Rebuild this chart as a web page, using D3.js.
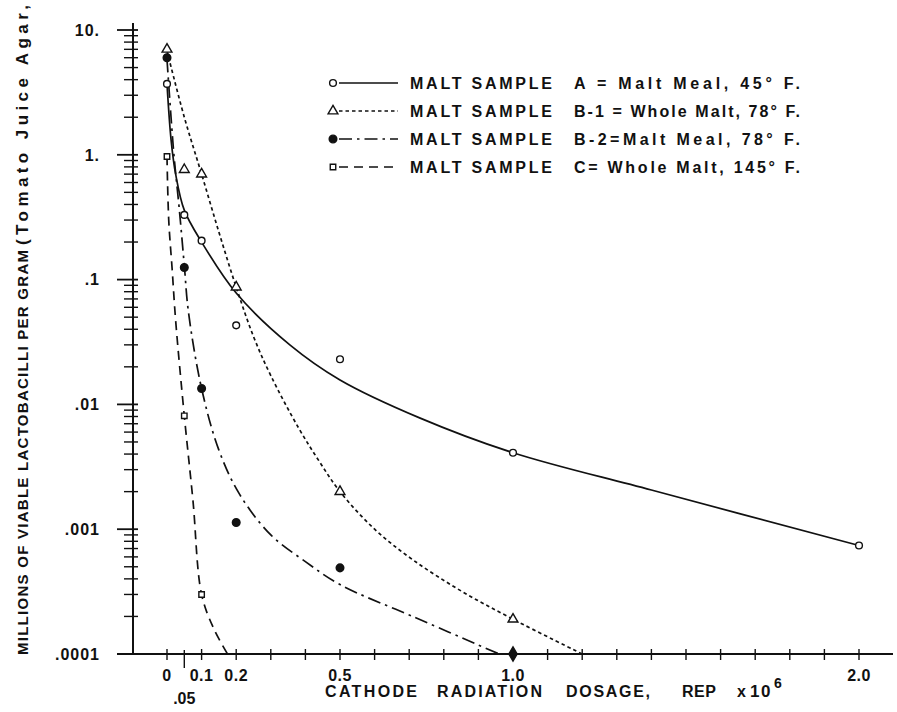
<!DOCTYPE html>
<html>
<head>
<meta charset="utf-8">
<script src="https://cdn.jsdelivr.net/npm/d3@7"></script>
<style>
  body { margin: 0; background: #fff; }
  svg text { font-family: "Liberation Sans", Arial, sans-serif; font-weight: bold; fill: #111; }
</style>
</head>
<body>
<svg id="chart" width="897" height="712"></svg>
<script>
// measured points: dose in REP x 10^6, millions of lactobacilli per gram
var doseA = [0, 0.05, 0.1, 0.2, 0.5, 1.0, 2.0],
    countA = [3.7, 0.33, 0.205, 0.043, 0.023, 0.0041, 0.00074];
var doseB1 = [0, 0.05, 0.1, 0.2, 0.5, 1.0],
    countB1 = [7.0, 0.76, 0.70, 0.087, 0.002, 0.00019];
var doseB2 = [0, 0.05, 0.1, 0.2, 0.5, 1.0],
    countB2 = [6.0, 0.125, 0.0134, 0.00113, 0.00049, 0.0001];
var doseC = [0, 0.05, 0.1],
    countC = [0.97, 0.0081, 0.0003];

// the hand drawn curves as [dose, count]
var fitA = [[0, 3.7], [0.012, 1.3], [0.025, 0.7], [0.05, 0.36], [0.1, 0.2], [0.2, 0.078], [0.355, 0.030],
            [0.5, 0.0157], [0.73, 0.0078], [1.0, 0.0041], [1.4, 0.00206], [2.0, 0.00074]];
var fitB1 = [[0, 6.8], [0.05, 2.0], [0.1, 0.70], [0.15, 0.24], [0.2, 0.087], [0.25, 0.035], [0.30, 0.017],
             [0.38, 0.0065], [0.44, 0.0035], [0.5, 0.002], [0.6, 0.001], [0.71, 0.00057], [0.85, 0.00032],
             [1.0, 0.00019], [1.2, 0.0001]];
var fitB2 = [[0, 5.8], [0.02, 1.0], [0.035, 0.38], [0.05, 0.13], [0.062, 0.055], [0.1, 0.0134], [0.15, 0.0043],
             [0.21, 0.0019], [0.30, 0.0009], [0.40, 0.00055], [0.50, 0.00036], [0.71, 0.0002], [0.96, 0.0001]];
var fitC = [[0, 0.97], [0.005, 0.3], [0.015, 0.12], [0.025, 0.047], [0.05, 0.0081], [0.075, 0.0017],
            [0.1, 0.0003], [0.135, 0.00016], [0.175, 0.0001]];

var xTickValues = [0, 0.1, 0.2, 0.5, 1.0, 2.0],
    xTickLabels = ["0", "0.1", "0.2", "0.5", "1.0", "2.0"];
var yTickValues = [10, 1, 0.1, 0.01, 0.001, 0.0001],
    yTickLabels = ["10.", "1.", ".1", ".01", ".001", ".0001"];

var legendNames = ["MALT SAMPLE", "MALT SAMPLE", "MALT SAMPLE", "MALT SAMPLE"],
    legendDetails = ["A = Malt Meal,  45\u00B0 F.", "B-1 = Whole Malt,  78\u00B0 F.",
                     "B-2=Malt Meal,  78\u00B0 F.", "C= Whole Malt, 145\u00B0 F."];

var svg = d3.select("svg#chart");

var x = d3.scaleLinear().domain([0, 2]).range([167, 859]);
var y = d3.scaleLog().domain([1e-4, 10]).range([654, 30]);
var axisX = 133;

var series = [
  {dose: doseA, count: countA, fit: fitA, symbol: d3.symbolCircle, size: 36, filled: false, dash: null},
  {dose: doseB1, count: countB1, fit: fitB1, symbol: d3.symbolTriangle, size: 42, filled: false, dash: "3.5,3"},
  {dose: doseB2, count: countB2, fit: fitB2, symbol: d3.symbolCircle, size: 46, filled: true, dash: "13,5,2.5,5"},
  {dose: doseC, count: countC, fit: fitC, symbol: d3.symbolSquare, size: 30, filled: false, dash: "9,6"}
];

// axes drawn by hand: log ticks cross the line, decades get a longer tick
var axes = svg.append("g").attr("stroke", "#111").attr("fill", "none");

axes.append("line")
    .attr("x1", axisX).attr("x2", axisX)
    .attr("y1", y(10) - 7).attr("y2", y(1e-4))
    .attr("stroke-width", 2);
axes.append("line")
    .attr("x1", axisX - 16).attr("x2", 893)
    .attr("y1", y(1e-4)).attr("y2", y(1e-4))
    .attr("stroke-width", 2);

var yMinor = [];
yTickValues.slice(1).forEach(function(d) {
  d3.range(2, 10).forEach(function(m) { yMinor.push(d * m); });
});

axes.selectAll(".ymin").data(yMinor).enter().append("line")
    .attr("x1", axisX - 9).attr("x2", axisX + 5)
    .attr("y1", function(d) { return y(d); }).attr("y2", function(d) { return y(d); })
    .attr("stroke-width", 1.4);
axes.selectAll(".ymaj").data(yTickValues).enter().append("line")
    .attr("x1", axisX - 16).attr("x2", axisX + 5)
    .attr("y1", function(d) { return y(d); }).attr("y2", function(d) { return y(d); })
    .attr("stroke-width", 1.8);

axes.selectAll(".xt").data(d3.range(0, 21).map(function(i) { return i / 10; })).enter().append("line")
    .attr("x1", function(d) { return x(d); }).attr("x2", function(d) { return x(d); })
    .attr("y1", y(1e-4) - 5).attr("y2", y(1e-4) + 6)
    .attr("stroke-width", 1.4);
axes.append("line")
    .attr("x1", x(0.05)).attr("x2", x(0.05))
    .attr("y1", y(1e-4) - 4).attr("y2", y(1e-4) + 14)
    .attr("stroke-width", 1.4);

svg.selectAll(".ylab").data(yTickValues).enter().append("text")
    .attr("x", 100)
    .attr("y", function(d) { return y(d); })
    .attr("dy", "0.36em")
    .attr("text-anchor", "end")
    .style("font-size", "16px")
    .style("letter-spacing", "1px")
    .text(function(d, i) { return yTickLabels[i]; });

svg.selectAll(".xlab").data(xTickValues).enter().append("text")
    .attr("x", function(d) { return x(d); })
    .attr("y", 681)
    .attr("text-anchor", "middle")
    .style("font-size", "16px")
    .style("letter-spacing", "0.5px")
    .text(function(d, i) { return xTickLabels[i]; });
svg.append("text")
    .attr("x", x(0.05)).attr("y", 704)
    .attr("text-anchor", "middle")
    .style("font-size", "16px")
    .text(".05");

// axis titles
var xt = svg.append("text").attr("y", 697).style("font-size", "16px");
xt.append("tspan").attr("x", 325).attr("textLength", 92).text("CATHODE");
xt.append("tspan").attr("x", 437).attr("textLength", 105).text("RADIATION");
xt.append("tspan").attr("x", 566).attr("textLength", 84).text("DOSAGE,");
xt.append("tspan").attr("x", 682).attr("textLength", 34).text("REP");
xt.append("tspan").attr("x", 737).text("x");
xt.append("tspan").attr("x", 750).style("font-size", "17px").style("letter-spacing", "1.5px").text("10");
xt.append("tspan").attr("x", 774).attr("dy", -9).style("font-size", "14px").text("6");

svg.append("text")
    .attr("transform", "translate(28,655) rotate(-90)")
    .attr("textLength", 405)
    .attr("lengthAdjust", "spacing")
    .style("font-size", "15px")
    .text("MILLIONS OF VIABLE LACTOBACILLI PER GRAM");
svg.append("text")
    .attr("transform", "translate(28,245) rotate(-90)")
    .attr("textLength", 240)
    .attr("lengthAdjust", "spacing")
    .style("font-size", "17px")
    .text("(Tomato Juice Agar,");

// curves and points
svg.append("clipPath").attr("id", "plot")
  .append("rect").attr("x", axisX).attr("y", 0).attr("width", 897 - axisX).attr("height", y(1e-4));

var line = d3.line()
    .x(function(d) { return x(d[0]); })
    .y(function(d) { return y(d[1]); })
    .curve(d3.curveCatmullRom.alpha(0.5));

var marks = svg.append("g");

series.forEach(function(s) {
  marks.append("path")
      .datum(s.fit)
      .attr("clip-path", "url(#plot)")
      .attr("d", line)
      .attr("fill", "none")
      .attr("stroke", "#111")
      .attr("stroke-width", 1.7)
      .attr("stroke-dasharray", s.dash);
});

series.forEach(function(s) {
  marks.selectAll(null)
      .data(d3.zip(s.dose, s.count))
      .enter().append("path")
      .attr("transform", function(d) { return "translate(" + x(d[0]) + "," + y(d[1]) + ")"; })
      .attr("d", function(d) {
        // a count on the floor of the scale was plotted as a diamond
        var onFloor = d[1] <= 1e-4;
        return d3.symbol().type(onFloor ? d3.symbolDiamond : s.symbol).size(onFloor ? 60 : s.size)();
      })
      .attr("fill", s.filled ? "#111" : "#fff")
      .attr("stroke", "#111")
      .attr("stroke-width", 1.4);
});

// legend
var legend = svg.append("g").selectAll("g")
    .data(series)
    .enter().append("g")
      .attr("transform", function(d, i) { return "translate(0," + (83 + i * 28) + ")"; });

legend.append("line")
    .attr("x1", 339).attr("x2", 398)
    .attr("stroke", "#111")
    .attr("stroke-width", 1.7)
    .attr("stroke-dasharray", function(d) { return d.dash; });

legend.append("path")
    .attr("transform", "translate(333,0)")
    .attr("d", function(d) { return d3.symbol().type(d.symbol).size(d.size)(); })
    .attr("fill", function(d) { return d.filled ? "#111" : "#fff"; })
    .attr("stroke", "#111")
    .attr("stroke-width", 1.4);

legend.append("text")
    .attr("x", 410).attr("y", 6)
    .attr("textLength", 142)
    .attr("lengthAdjust", "spacing")
    .style("font-size", "16px")
    .text(function(d, i) { return legendNames[i]; });

legend.append("text")
    .attr("x", 574).attr("y", 6)
    .attr("textLength", 226)
    .attr("lengthAdjust", "spacing")
    .style("font-size", "16px")
    .text(function(d, i) { return legendDetails[i]; });
</script>
</body>
</html>
